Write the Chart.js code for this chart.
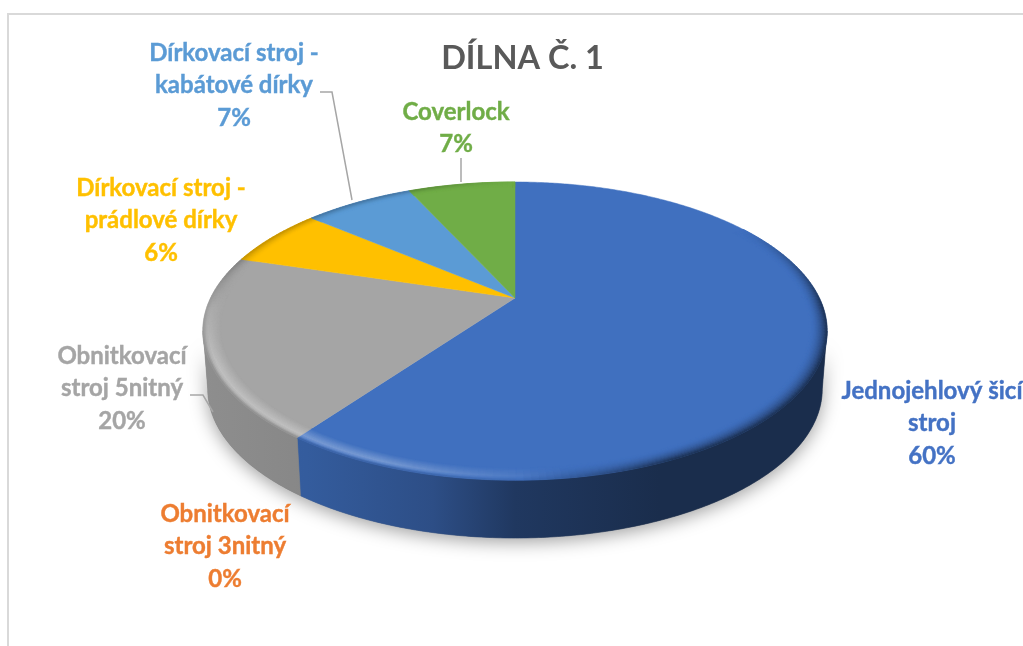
<!DOCTYPE html>
<html lang="cs">
<head>
<meta charset="utf-8">
<title>Dílna č. 1</title>
<script src="https://cdn.jsdelivr.net/npm/chart.js@4"></script>
<style>
  html, body { margin: 0; padding: 0; background: #fff; overflow: hidden; }
  canvas { display: block; }
</style>
</head>
<body>
<canvas id="graf" width="1023" height="646"></canvas>
<script>
const nadpis = 'DÍLNA Č. 1'
const kategorie = ['Jednojehlový šicí stroj', 'Obnitkovací stroj 3nitný', 'Obnitkovací stroj 5nitný', 'Dírkovací stroj - prádlové dírky', 'Dírkovací stroj - kabátové dírky', 'Coverlock']
const hodnoty = [60, 0, 19.7, 6.45, 7, 6.85]
const barvy = ['#4070BF', '#ED7D31', '#A5A5A5', '#FFC000', '#5B9BD5', '#70AD47']
const radkyPopisku = [
  ['Jednojehlový šicí', 'stroj'],
  ['Obnitkovací', 'stroj 3nitný'],
  ['Obnitkovací', 'stroj 5nitný'],
  ['Dírkovací stroj -', 'prádlové dírky'],
  ['Dírkovací stroj -', 'kabátové dírky'],
  ['Coverlock']
]

// kde leží popisky (střed textu, první řádek) a vodicí čáry
const popiskyXY = [[932, 391], [225, 514], [122, 356], [161, 188], [234, 53], [456, 112]]
const vodici = [
  [[320, 92], [332, 92], [352, 200]],
  [[461, 158], [461, 182]],
  [[190, 395], [203, 395], [213, 412]]
]

// perspektiva koláče: střed na obrazovce a parametry promítání
const STRED_X = 515, STRED_Y = 298
const K = 0.2215, A = 304.2, B = 141.7, HLOUBKA = 58, SPODEK = 0.985

const bod = (uhel, r = 1, dole = false) => {
  const u = Math.cos(uhel) * r, v = Math.sin(uhel) * r
  const w = 1 - K * v
  const sx = dole ? SPODEK : 1
  return [STRED_X + A * u / w * sx, STRED_Y + B * v / w + (dole ? HLOUBKA : 0)]
}
const omez = (x) => Math.max(0, Math.min(1, x))
const rgb = (hex) => [1, 3, 5].map(i => parseInt(hex.substr(i, 2), 16))
const mix = (a, b, t) => a.map((c, i) => Math.round(c + (b[i] - c) * t))

const OKRAJ_VLEVO = Math.asin(K), OKRAJ_VPRAVO = Math.PI - Math.asin(K)

const cestaStena = (ctx, od, po) => {
  ctx.beginPath()
  for (let a = od; a < po; a += 0.01) ctx.lineTo(...bod(a))
  ctx.lineTo(...bod(po))
  for (let a = po; a > od; a -= 0.01) ctx.lineTo(...bod(a, 1, true))
  ctx.lineTo(...bod(od, 1, true))
  ctx.closePath()
}

const kolac3d = {
  id: 'kolac3d',
  beforeDraw(chart) {
    const ctx = chart.ctx
    ctx.save()
    ctx.strokeStyle = '#d9d9d9'
    ctx.lineWidth = 2
    ctx.beginPath()
    ctx.moveTo(8, 646)
    ctx.lineTo(8, 14)
    ctx.lineTo(1023, 14)
    ctx.stroke()
    ctx.restore()
  },
  // oblouky si kreslíme sami, úhly bereme z prvků Chart.js
  beforeDatasetsDraw(chart) {
    const ctx = chart.ctx
    const oblouky = chart.getDatasetMeta(0).data
    ctx.save()

    // stín pod koláčem
    ctx.save()
    ctx.shadowColor = 'rgba(0,0,0,0.38)'
    ctx.shadowBlur = 18
    ctx.shadowOffsetY = 4
    ctx.fillStyle = '#777'
    cestaStena(ctx, OKRAJ_VLEVO, OKRAJ_VPRAVO)
    ctx.fill()
    ctx.restore()

    // boční stěna
    oblouky.forEach((obl, i) => {
      const od = Math.max(obl.startAngle, OKRAJ_VLEVO)
      const po = Math.min(obl.endAngle, OKRAJ_VPRAVO)
      if (po <= od) return
      const zaklad = rgb(barvy[i])
      const g = ctx.createLinearGradient(200, 0, 830, 0)
      g.addColorStop(0, `rgb(${mix(zaklad, [0, 0, 0], 0.14)})`)
      g.addColorStop(0.17, `rgb(${mix(zaklad, [0, 0, 0], 0.18)})`)
      g.addColorStop(0.37, `rgb(${mix(zaklad, [0, 0, 0], 0.3)})`)
      g.addColorStop(0.5, `rgb(${mix(zaklad, [0, 0, 0], 0.5)})`)
      g.addColorStop(0.73, `rgb(${mix(zaklad, [0, 0, 0], 0.6)})`)
      g.addColorStop(1, `rgb(${mix(zaklad, [0, 0, 0], 0.6)})`)
      ctx.fillStyle = g
      ctx.strokeStyle = g
      ctx.lineWidth = 0.6
      cestaStena(ctx, od, po)
      ctx.fill()
      ctx.stroke()
    })

    // horní plocha
    oblouky.forEach((obl, i) => {
      if (obl.endAngle - obl.startAngle <= 0) return
      ctx.fillStyle = barvy[i]
      ctx.strokeStyle = barvy[i]
      ctx.lineWidth = 0.5
      ctx.beginPath()
      ctx.moveTo(STRED_X, STRED_Y)
      for (let a = obl.startAngle; a < obl.endAngle; a += 0.01) ctx.lineTo(...bod(a))
      ctx.lineTo(...bod(obl.endAngle))
      ctx.closePath()
      ctx.fill()
      ctx.stroke()
    })

    // zkosený okraj: vlevo a vpředu světlý, vpravo tmavý
    const KROK_R = 0.004, ZACATEK = 0.945, KROK_A = 0.02
    oblouky.forEach((obl, i) => {
      if (obl.endAngle - obl.startAngle <= 0) return
      const zaklad = rgb(barvy[i])
      const stena = mix(zaklad, [0, 0, 0], 0.3)
      for (let r = ZACATEK; r < 1; r += KROK_R) {
        const t = (r - ZACATEK) / (1 - ZACATEK)
        for (let a = obl.startAngle; a < obl.endAngle; a += KROK_A) {
          const a2 = Math.min(a + KROK_A, obl.endAngle)
          const u = Math.cos(a), v = Math.sin(a)
          const tma = omez((u - 0.02) / 0.4) * omez((v + 0.55) / 0.6)
          const svetlo = omez((0.15 - u) / 0.5) * omez((v + 0.05) / 0.5)
          const zhora = omez((-v + 0.1) / 0.4) * omez(-u / 0.5)
          if (tma <= 0 && svetlo <= 0 && zhora <= 0) continue
          const vrchol = t < 0.65 ? t / 0.65 : (1 - t) / 0.35
          let c = mix(zaklad, [255, 255, 255], svetlo * 0.3 * vrchol)
          c = mix(c, mix(zaklad, [0, 0, 0], 0.25), zhora * t * t)
          c = mix(c, stena, svetlo * omez((t - 0.8) / 0.2) * 0.6)
          c = mix(c, mix(zaklad, [0, 0, 0], 0.6), tma * t * t)
          ctx.fillStyle = ctx.strokeStyle = `rgb(${c})`
          ctx.lineWidth = 0.5
          ctx.beginPath()
          ctx.moveTo(...bod(a, r))
          ctx.lineTo(...bod(a2, r))
          ctx.lineTo(...bod(a2, r + KROK_R))
          ctx.lineTo(...bod(a, r + KROK_R))
          ctx.closePath()
          ctx.fill()
          ctx.stroke()
        }
      }
    })
    ctx.restore()
    return false
  },
  afterDraw(chart) {
    const ctx = chart.ctx
    ctx.save()
    // vodicí čáry
    ctx.strokeStyle = '#a6a6a6'
    ctx.lineWidth = 1.5
    vodici.forEach(cara => {
      ctx.beginPath()
      cara.forEach(p => ctx.lineTo(p[0], p[1]))
      ctx.stroke()
    })
    // popisky
    ctx.font = 'bold 24px Lato'
    ctx.textAlign = 'center'
    ctx.textBaseline = 'middle'
    ctx.lineWidth = 0.4
    const soucet = hodnoty.reduce((a, b) => a + b, 0)
    hodnoty.forEach((h, i) => {
      const radky = [...radkyPopisku[i], `${Math.round(h / soucet * 100)}%`]
      ctx.fillStyle = ctx.strokeStyle = i === 0 ? '#4472C4' : barvy[i]
      radky.forEach((t, j) => {
        ctx.fillText(t, popiskyXY[i][0], popiskyXY[i][1] + j * 32.7)
        ctx.strokeText(t, popiskyXY[i][0], popiskyXY[i][1] + j * 32.7)
      })
    })
    ctx.restore()
  }
}

new Chart(document.getElementById('graf'), {
  type: 'pie',
  data: {
    labels: kategorie,
    datasets: [{ data: hodnoty, backgroundColor: barvy, borderWidth: 0 }]
  },
  options: {
    responsive: false,
    animation: false,
    layout: { padding: { left: 22 } },
    plugins: {
      legend: { display: false },
      tooltip: { enabled: false },
      title: {
        display: true,
        text: nadpis,
        color: '#595959',
        font: { family: 'Lato', size: 32.5, weight: 'bold' },
        padding: { top: 39, bottom: 10 }
      }
    }
  },
  plugins: [kolac3d]
})
</script>
</body>
</html>
